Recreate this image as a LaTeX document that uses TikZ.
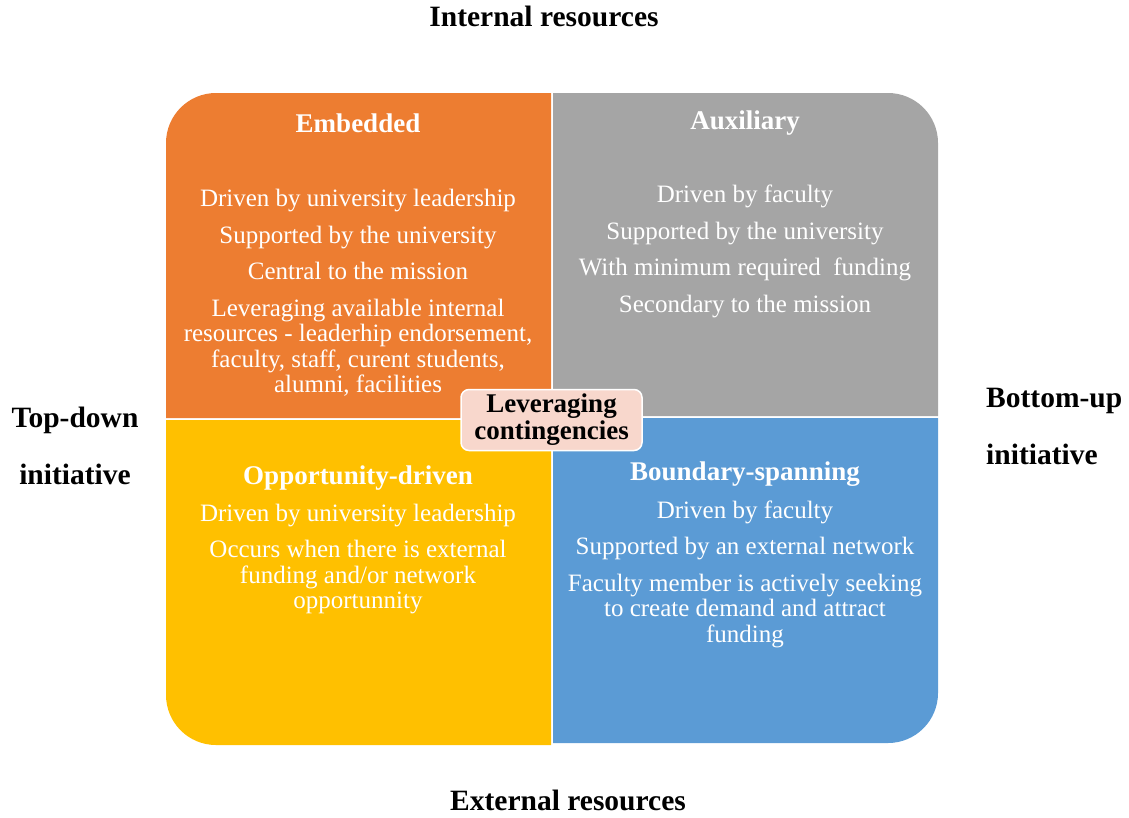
\documentclass[tikz,border=0pt]{standalone}
\usepackage{fontspec}
\setmainfont{Liberation Serif}
\usepackage{tikz}
\definecolor{edhdqq}{rgb}{0.929,0.490,0.192}
\definecolor{kkkkkk}{rgb}{0.647,0.647,0.647}
\definecolor{ffcqqq}{rgb}{1,0.753,0}
\definecolor{fbjbfd}{rgb}{0.357,0.608,0.835}
\definecolor{fhdhcc}{rgb}{0.973,0.843,0.800}
\tikzset{
  head/.style={text=white,font=\fontsize{27}{30}\selectfont\bfseries,inner sep=0pt},
  body/.style={text=white,align=center,font=\fontsize{25}{25.5}\selectfont,inner sep=0pt},
  side/.style={text=black,font=\fontsize{29.5}{57.5}\selectfont\bfseries,inner sep=0pt}
}
\begin{document}
\begin{tikzpicture}[line cap=round,line join=round,x=1pt,y=-1pt]
\useasboundingbox (0,0) rectangle (1129,817);
% quadrants
\fill[color=edhdqq] (551,418) -- (166,418) [rounded corners=50pt] -- (166,93) [sharp corners] -- (551,93) -- cycle;
\fill[color=kkkkkk] (553,416) -- (553,93) [rounded corners=50pt] -- (938,93) [sharp corners] -- (938,416) -- cycle;
\fill[color=ffcqqq] (551,420) -- (166,420) [rounded corners=50pt] -- (166,745) [sharp corners] -- (551,745) -- cycle;
\fill[color=fbjbfd] (553,418) -- (938,418) [rounded corners=50pt] -- (938,743) [sharp corners] -- (553,743) -- cycle;

\node[head] (emb) at (358,123) {Embedded};
\node[body] (embtxt) at (358,293) {Driven by university leadership\\[11pt]
  Supported by the university\\[11pt]
  Central to the mission\\[11pt]
  Leveraging available internal\\
  resources - leaderhip endorsement,\\
  faculty, staff, curent students,\\
  alumni, facilities};

\node[head] (aux) at (745,123) {Auxiliary};
\node[body] (auxtxt) at (745,251.5) {Driven by faculty\\[11pt]
  Supported by the university\\[11pt]
  With minimum required\ \ funding\\[11pt]
  Secondary to the mission};

\node[head] (opp) at (358,478) {Opportunity-driven};
\node[body] (opptxt) at (358,559) {Driven by university leadership\\[11pt]
  Occurs when there is external\\
  funding and/or network\\
  opportunnity};

\node[head] (bnd) at (745,474) {Boundary-spanning};
\node[body] (bndtxt) at (745,574) {Driven by faculty\\[11pt]
  Supported by an external network\\[11pt]
  Faculty member is actively seeking\\
  to create demand and attract\\
  funding};

\node[draw=white,line width=1.5pt,fill=fhdhcc,rounded corners=8pt,minimum width=181pt,minimum height=61pt,
  align=center,inner sep=0pt,font=\fontsize{27}{27}\selectfont\bfseries] (lev) at (551.5,420)
  {Leveraging\\contingencies};

% outer labels
\node[side] (intres) at (544,16) {Internal resources};
\node[side] (extres) at (568,800) {External resources};
\node[side,align=center] (topdown) at (75,446) {Top-down\\initiative};
\node[side,align=left,anchor=west] (bottomup) at (986,426.5) {Bottom-up\\initiative};
\end{tikzpicture}
\end{document}
